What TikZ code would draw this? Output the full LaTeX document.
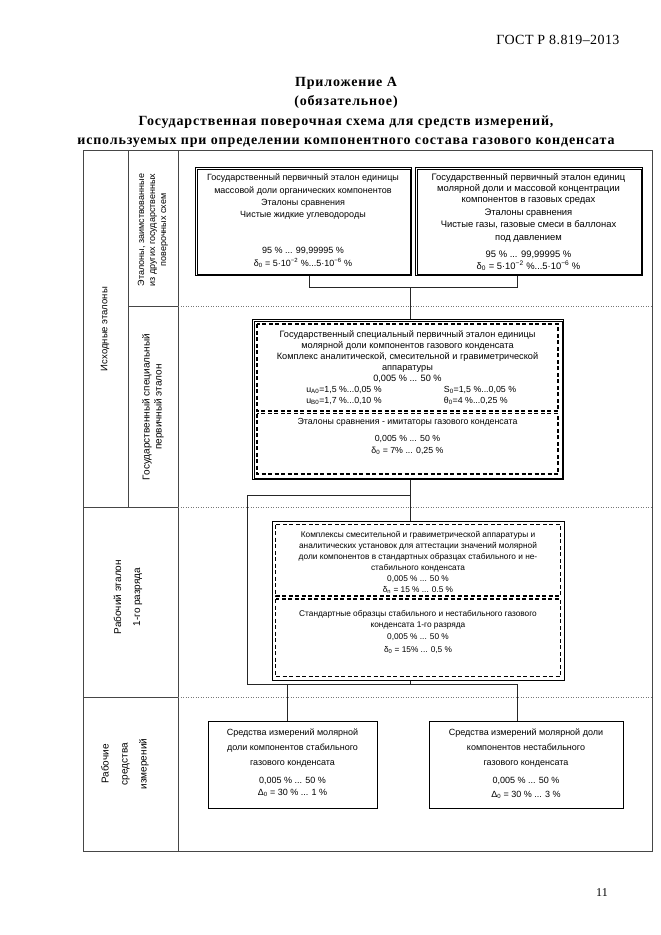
\documentclass[tikz,border=0pt]{standalone}
\usepackage{fontspec}
\setmainfont{Liberation Serif}
\setsansfont{Liberation Sans}
\definecolor{gridgray}{RGB}{70, 70, 70}
\definecolor{dotgray}{RGB}{120, 120, 120}
\usepackage{tikz}
\usetikzlibrary{positioning, calc}

\tikzset{
  boxtxt/.style={font=\sffamily\fontsize{8.8}{11}\selectfont, align=center, inner sep=0pt, anchor=north},
  sidetxt/.style={font=\sffamily\fontsize{10}{12}\selectfont, align=center, inner sep=0pt, rotate=90},
  dblbox/.style={draw=black, line width=1.4pt, inner sep=0pt, anchor=north west},
  innerline/.style={draw=black, line width=0.5pt},
  dashline/.style={draw=black, line width=1.1pt, dash pattern=on 4pt off 2.5pt},
  conn/.style={draw=black!85, line width=0.6pt},
  rowsep/.style={draw=dotgray, line width=0.5pt, dotted}
}

\begin{document}
\begin{tikzpicture}[x=1pt, y=-1pt]
  \useasboundingbox (0,0) rectangle (661,935);

  \node[anchor=east, font=\fontsize{14}{16}\selectfont\addfontfeature{LetterSpace=3}] (gost) at (623,40) {ГОСТ Р 8.819–2013};
  \node[anchor=north, align=center, font=\fontsize{14}{19.2}\selectfont\bfseries\addfontfeature{LetterSpace=6}] (title) at (346,74)
    {Приложение А\\(обязательное)\\Государственная поверочная схема для средств измерений,\\используемых при определении компонентного состава газового конденсата};

  % table frame
  \draw[gridgray, line width=0.8pt] (83,150) rectangle (652,851);
  \draw[gridgray, line width=0.7pt] (128,150) -- (128,507);
  \draw[gridgray, line width=0.7pt] (178,150) -- (178,851);
  \draw[gridgray, line width=0.7pt] (128,306) -- (178,306);
  \draw[gridgray, line width=0.7pt] (83,507) -- (178,507);
  \draw[gridgray, line width=0.7pt] (83,697) -- (178,697);
  \foreach \yy in {306,507,697}
    \draw[rowsep] (178,\yy) -- (652,\yy);

  \node[sidetxt, font=\sffamily\fontsize{9.5}{12}\selectfont] (lbInit) at (105,329) {Исходные эталоны};
  \node[sidetxt, font=\sffamily\fontsize{9}{11}\selectfont] (lbBorrow) at (153,230)
    {Эталоны, заимствованные\\из других государственных\\поверочных схем};
  \node[sidetxt] (lbSpecial) at (153,407) {Государственный специальный\\первичный эталон};
  \node[sidetxt, font=\sffamily\fontsize{10}{19}\selectfont] (lbWork) at (128,597) {Рабочий эталон\\1-го разряда};
  \node[sidetxt, font=\sffamily\fontsize{10}{19}\selectfont] (lbTools) at (125,764) {Рабочие\\средства\\измерений};

  % borrowed standards
  \node[dblbox, minimum width=216pt, minimum height=108pt] (boxA) at (195,167) {};
  \draw[innerline] ([shift={(2.5pt,-2.5pt)}]boxA.north west) rectangle ([shift={(-2.5pt,2.5pt)}]boxA.south east);
  \node[boxtxt, font=\sffamily\fontsize{9}{12.3}\selectfont] (txtA) at (303,174)
    {Государственный первичный эталон единицы\\массовой доли органических компонентов\\Эталоны сравнения\\Чистые жидкие углеводороды\\[23.8pt]
     95 \% ... 99,99995 \%\\δ\textsubscript{0} = 5·10\textsuperscript{−2} \%...5·10\textsuperscript{−6} \%};

  \node[dblbox, minimum width=227pt, minimum height=108pt] (boxB) at (415,167) {};
  \draw[innerline] ([shift={(2.5pt,-2.5pt)}]boxB.north west) rectangle ([shift={(-2.5pt,2.5pt)}]boxB.south east);
  \node[boxtxt, font=\sffamily\fontsize{9.4}{11}\selectfont] (txtB) at (528.5,173)
    {Государственный первичный эталон единиц\\молярной доли и массовой концентрации\\компонентов в газовых средах\\[2pt]
     Эталоны сравнения\\[1pt]Чистые газы, газовые смеси в баллонах\\[2pt]под давлением\\[6pt]
     95 \% ... 99,99995 \%\\[1pt]δ\textsubscript{0} = 5·10\textsuperscript{−2} \%...5·10\textsuperscript{−6} \%};

  % special primary standard
  \node[dblbox, minimum width=311pt, minimum height=160pt] (boxC) at (252,319) {};
  \draw[innerline] ([shift={(2.5pt,-2.5pt)}]boxC.north west) rectangle ([shift={(-2.5pt,2.5pt)}]boxC.south east);
  \draw[dashline] (257,324) rectangle (558,411);
  \draw[dashline] (257,413.5) rectangle (558,474);
  \node[boxtxt, font=\sffamily\fontsize{9.2}{11}\selectfont] (txtC) at (407.5,330)
    {Государственный специальный первичный эталон единицы\\молярной доли компонентов газового конденсата\\Комплекс аналитической, смесительной и гравиметрической\\аппаратуры\\0,005 \% ... 50 \%};
  \node[boxtxt, align=left] (txtCl) at (344,386) {u\textsubscript{A0}=1,5 \%...0,05 \%\\u\textsubscript{B0}=1,7 \%...0,10 \%};
  \node[boxtxt, align=left] (txtCr) at (480,386) {S\textsubscript{0}=1,5 \%...0,05 \%\\θ\textsubscript{0}=4 \%...0,25 \%};
  \node[boxtxt] (txtC2) at (407.5,418)
    {Эталоны сравнения - имитаторы газового конденсата\\[6pt]0,005 \% ... 50 \%\\[1pt]δ\textsubscript{0} = 7\% ... 0,25 \%};

  % working standard
  \node[dblbox, minimum width=292pt, minimum height=159pt] (boxD) at (272,521) {};
  \draw[dashline] (275.5,524.5) rectangle (560.5,596);
  \draw[dashline] (275.5,599) rectangle (560.5,676.5);
  \node[boxtxt, font=\sffamily\fontsize{8.3}{11}\selectfont] (txtD) at (418,531)
    {Комплексы смесительной и гравиметрической аппаратуры и\\аналитических установок для аттестации значений молярной\\доли компонентов в стандартных образцах стабильного и не-\\стабильного конденсата\\0,005 \% ... 50 \%\\δ\textsubscript{n} = 15 \% ... 0.5 \%};
  \node[boxtxt, font=\sffamily\fontsize{8.3}{11}\selectfont] (txtD2) at (418,610)
    {Стандартные образцы стабильного и нестабильного  газового\\конденсата 1-го разряда\\[1pt]0,005 \% ... 50 \%\\[2pt]δ\textsubscript{0} = 15\% ... 0,5 \%};

  % working instruments
  \node[draw=black, line width=0.9pt, minimum width=169pt, minimum height=87pt, anchor=north west] (boxE) at (208,721) {};
  \node[boxtxt, font=\sffamily\fontsize{9}{11}\selectfont] (txtE) at (292.5,729)
    {Средства измерений молярной\\[3.5pt]доли компонентов стабильного\\[4pt]газового конденсата\\[7pt]0,005 \% ... 50 \%\\[1pt]Δ\textsubscript{0} = 30 \% ... 1 \%};
  \node[draw=black, line width=0.9pt, minimum width=194pt, minimum height=87pt, anchor=north west] (boxF) at (429,721) {};
  \node[boxtxt, font=\sffamily\fontsize{9}{11}\selectfont] (txtF) at (526,729)
    {Средства измерений молярной доли\\[4pt]компонентов нестабильного\\[4pt]газового конденсата\\[7pt]0,005 \% ... 50 \%\\[3pt]Δ\textsubscript{0} = 30 \% ... 3 \%};

  % connectors
  \coordinate (jA) at (309,287);
  \coordinate (jB) at (517,287);
  \coordinate (jAB) at (410,287);
  \coordinate (jC) at (410,495);
  \coordinate (jL) at (247,495);
  \coordinate (jBus) at (410,684);
  \coordinate (jE) at (287,684);
  \coordinate (jF) at (517,684);
  \draw[conn] (jA |- boxA.south) -- (jA) -- (jB) -- (jB |- boxB.south);
  \draw[conn] (jAB) -- (jAB |- boxC.north);
  \draw[conn] (jC |- boxC.south) -- (jC |- boxD.north);
  \draw[conn] (jC) -- (jL) -- (jL |- jBus) -- (jF);
  \draw[conn] (jBus |- boxD.south) -- (jBus);
  \draw[conn] (jE) -- (jE |- boxE.north);
  \draw[conn] (jF) -- (jF |- boxF.north);

  \node[font=\fontsize{12}{14}\selectfont] (pageno) at (602,893) {11};
\end{tikzpicture}
\end{document}
